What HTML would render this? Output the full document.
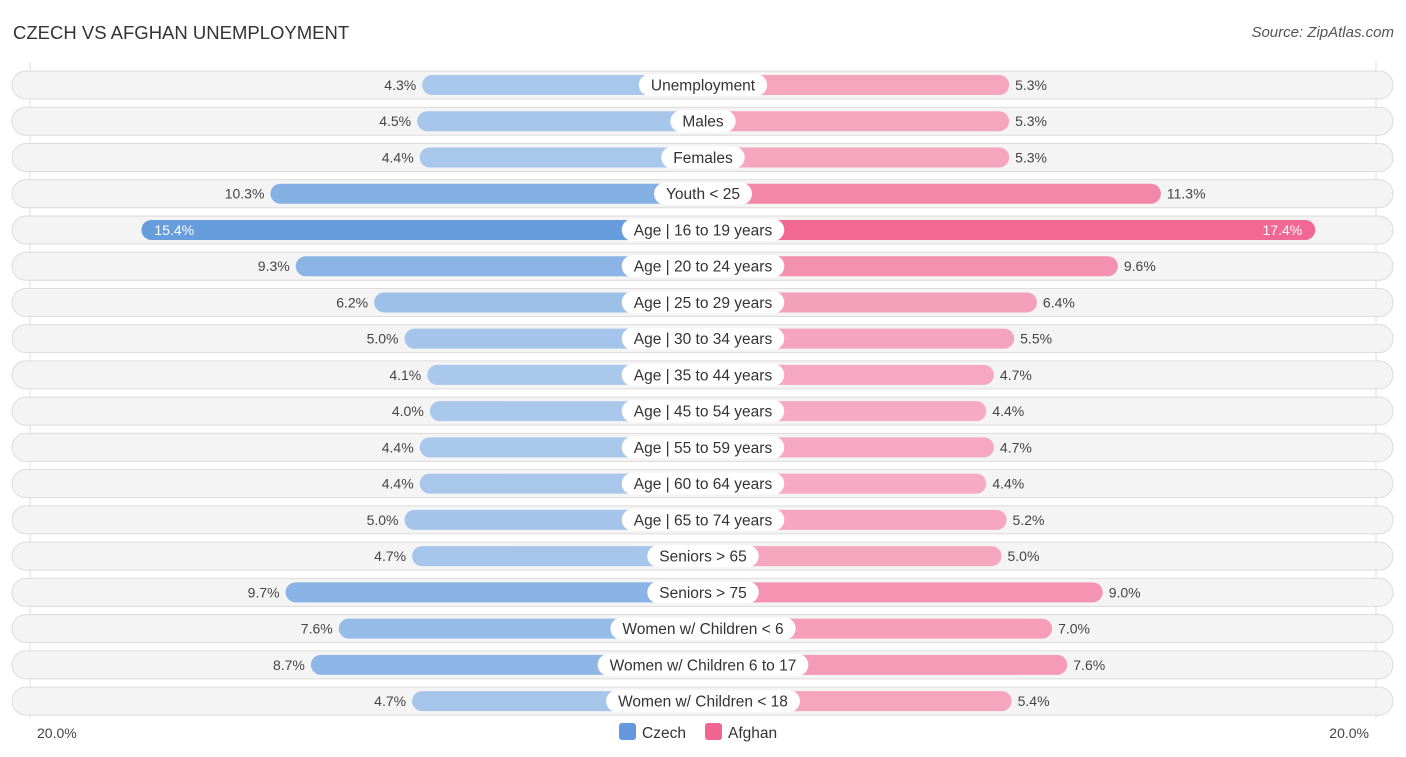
<!DOCTYPE html>
<html><head><meta charset="utf-8"><style>
body{margin:0;width:1406px;height:757px;background:#fff;font-family:"Liberation Sans",sans-serif;overflow:hidden;position:relative}
.t{position:absolute;white-space:nowrap}
</style></head><body>
<div class="t" style="left:13px;top:22px;font-size:18.5px;color:#333">CZECH VS AFGHAN UNEMPLOYMENT</div>
<div class="t" style="right:12px;top:24px;font-size:15px;color:#555;font-style:italic">Source: ZipAtlas.com</div>
<svg id="chart" width="1406" height="757" style="position:absolute;left:0;top:0"></svg>
<script>
const categories=["Unemployment","Males","Females","Youth < 25","Age | 16 to 19 years","Age | 20 to 24 years","Age | 25 to 29 years","Age | 30 to 34 years","Age | 35 to 44 years","Age | 45 to 54 years","Age | 55 to 59 years","Age | 60 to 64 years","Age | 65 to 74 years","Seniors > 65","Seniors > 75","Women w/ Children < 6","Women w/ Children 6 to 17","Women w/ Children < 18"];
const czech=[4.3,4.5,4.4,10.3,15.4,9.3,6.2,5.0,4.1,4.0,4.4,4.4,5.0,4.7,9.7,7.6,8.7,4.7];
const afghan=[5.3,5.3,5.3,11.3,17.4,9.6,6.4,5.5,4.7,4.4,4.7,4.4,5.2,5.0,9.0,7.0,7.6,5.4];
const axisMax=20;
const svg=document.getElementById('chart');const NS='http://www.w3.org/2000/svg';
const cx=703,off=172,scale=25.3;
function xL(v){return cx-off-v*scale} function xR(v){return cx+off+v*scale}
function yRow(i){return 85+i*36.24}
function mk(t,a){const e=document.createElementNS(NS,t);for(const k in a)e.setAttribute(k,a[k]);svg.appendChild(e);return e}
function mix(c1,c2,f){return 'rgb('+c1.map((c,i)=>Math.round(c+(c2[i]-c)*f)).join(',')+')'}
const gl=mk('line',{x1:30,x2:30,y1:62,y2:718,stroke:'#ddd','stroke-width':1});
const gr=mk('line',{x1:1376,x2:1376,y1:62,y2:718,stroke:'#ddd','stroke-width':1});
categories.forEach((c,i)=>{
 const y=yRow(i);
 const bg=mk('rect',{x:12,y:y-14,width:1381,height:28,rx:14,fill:'#f4f4f4',stroke:'#dcdcdc','stroke-width':1});
 
 const strongC=czech[i]>=15, strongA=afghan[i]>=15;
 const fc=Math.min(1,(czech[i]-4)/12), fa=Math.min(1,(afghan[i]-4)/14);
 const b1=mk('rect',{x:xL(czech[i]),y:y-10,width:cx-xL(czech[i]),height:20,rx:10,fill:mix([170,200,236],[99,155,220],fc)});
 
 const b2=mk('rect',{x:cx,y:y-10,width:xR(afghan[i])-cx,height:20,rx:10,fill:mix([246,172,196],[241,101,146],fa)});
 
 const lb=mk('rect',{x:cx-50,y:y-11,width:100,height:22,rx:11,fill:'#fff'});
 
 const lt=mk('text',{x:cx,y:y+5.5,'text-anchor':'middle','font-size':15.5,fill:'#333'});lt.textContent=c;
 
 const w=lt.getComputedTextLength()+24;
 lb.setAttribute('x',cx-w/2);lb.setAttribute('width',w);
 const v1=strongC?mk('text',{x:xL(czech[i])+13,y:y+5,'font-size':14,fill:'#fff'}):mk('text',{x:xL(czech[i])-6,y:y+5,'text-anchor':'end','font-size':14,fill:'#444'});
 v1.textContent=czech[i].toFixed(1)+'%';
 const v2=strongA?mk('text',{x:xR(afghan[i])-13,y:y+5,'text-anchor':'end','font-size':14,fill:'#fff'}):mk('text',{x:xR(afghan[i])+6,y:y+5,'font-size':14,fill:'#444'});
 v2.textContent=afghan[i].toFixed(1)+'%';
});
const a1=mk('text',{x:37,y:738,'font-size':14,fill:'#444'});a1.textContent=axisMax.toFixed(1)+'%';
const a2=mk('text',{x:1369,y:738,'text-anchor':'end','font-size':14,fill:'#444'});a2.textContent=axisMax.toFixed(1)+'%';
const l1=mk('rect',{x:619,y:723,width:17,height:17,rx:3,fill:'#6399dc'});
const l1t=mk('text',{x:642,y:738,'font-size':15.5,fill:'#333'});l1t.textContent='Czech';
const l2=mk('rect',{x:705,y:723,width:17,height:17,rx:3,fill:'#f06592'});
const l2t=mk('text',{x:728,y:738,'font-size':15.5,fill:'#333'});l2t.textContent='Afghan';
</script>
</body></html>
